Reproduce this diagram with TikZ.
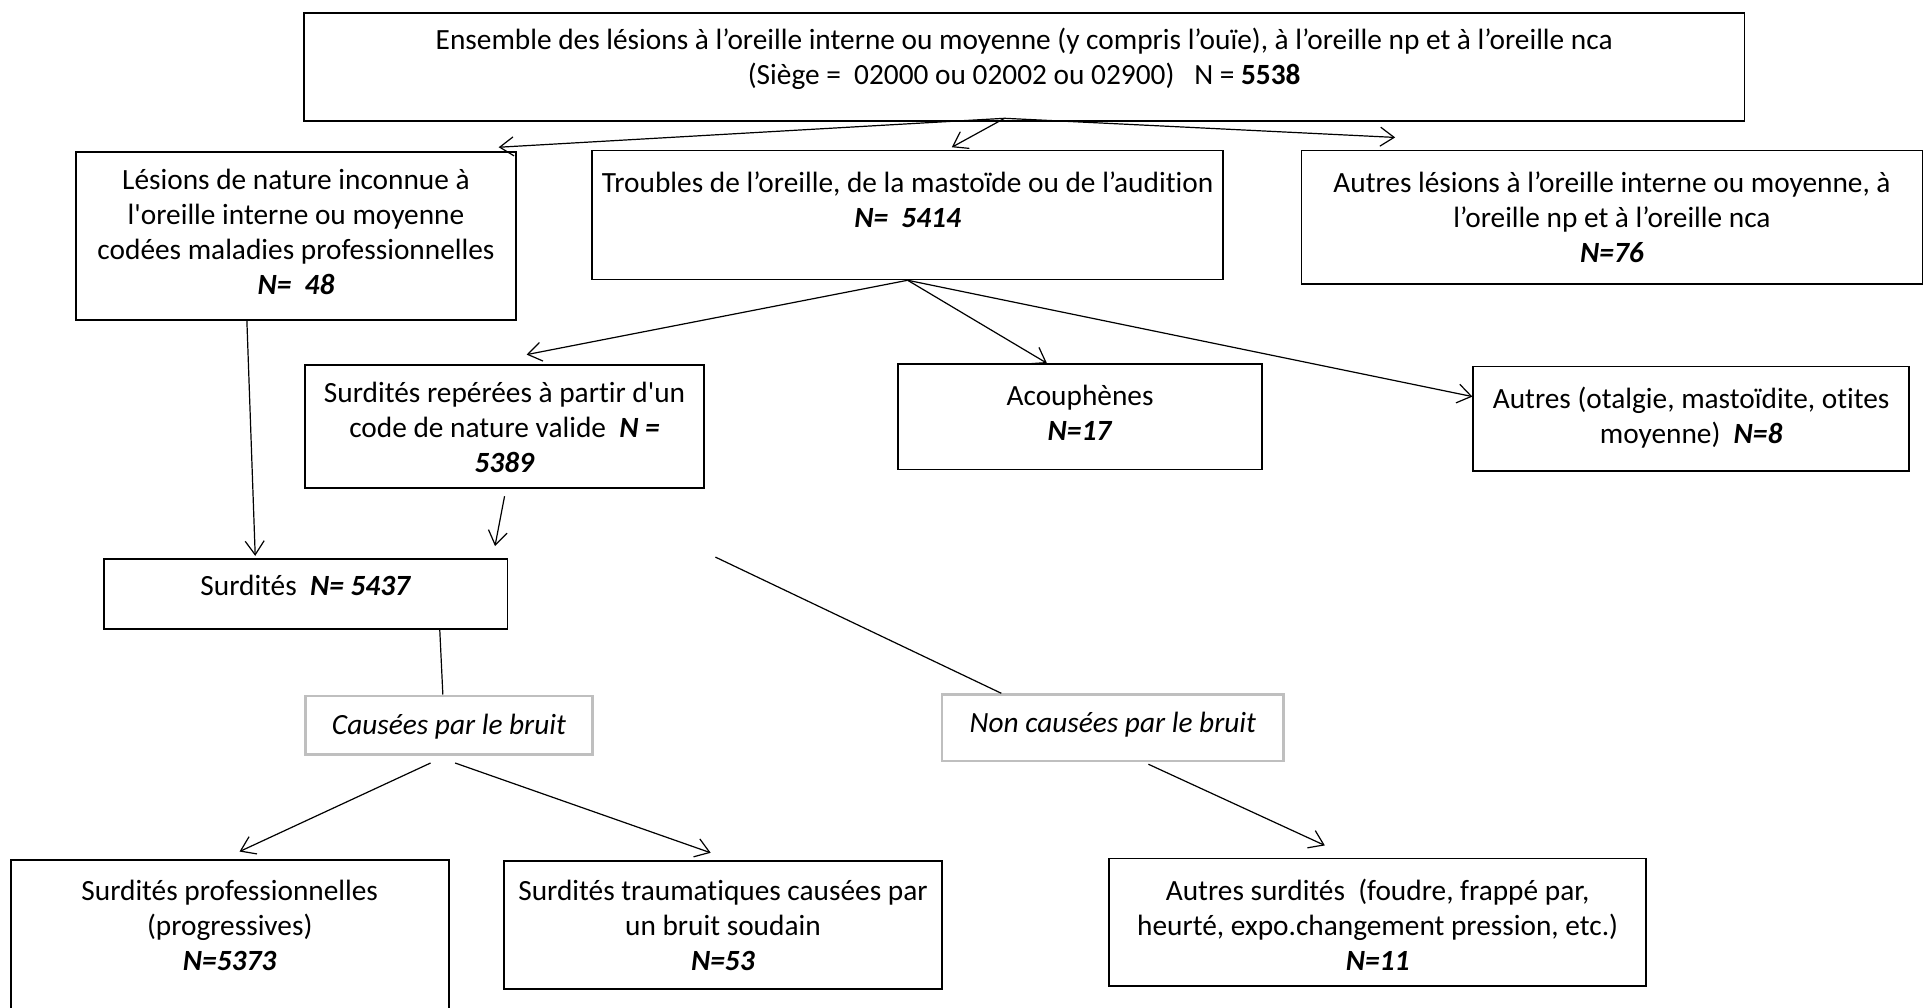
\documentclass[tikz,border=0pt]{standalone}
\usepackage{fontspec}
\setmainfont{Carlito}[Ligatures=NoCommon]
\usetikzlibrary{arrows.meta,calc,positioning}
\newdimen\pxu \pxu=0.025cm
\newcommand{\boxtext}[4]{\parbox[c][#2\pxu][t]{#1\pxu}{\centering\vspace*{#3\pxu}\strut#4}}
\newcommand{\nval}[1]{\textbf{\textit{#1}}}
\tikzset{box/.style={draw,line width=1pt,inner sep=0pt,anchor=north west,font=\fontsize{17pt}{20.3pt}\selectfont},
         gray box/.style={box,draw=black!25,line width=1.3pt},
         link/.style={line width=0.7pt},
         arrow/.style={link,-{Straight Barb[length=8pt,width=11pt]}},
}
\begin{document}
\begin{tikzpicture}[x=0.025cm,y=-0.025cm]
\useasboundingbox (0,0) rectangle (1568,821);
% boxes
\node[box] (top) at (247,10) {\boxtext{1174}{88}{10}{Ensemble des lésions à l’oreille interne ou moyenne (y compris l’ouïe), à l’oreille np et à l’oreille nca\\(Siège =\ \ 02000 ou 02002 ou 02900)\ \ \ N = \textbf{5538}}};
\node[box] (inconnue) at (61,123) {\boxtext{359}{137}{11}{Lésions de nature inconnue à\\l\textquotesingle oreille interne ou moyenne\\codées maladies professionnelles\\\nval{N=\ \ 48}}};
\node[box] (troubles) at (482,122) {\boxtext{514}{105}{14}{Troubles de l’oreille, de la mastoïde ou de l’audition\\\nval{N=\ \ 5414}}};
\node[box] (autreslesions) at (1060,122) {\boxtext{506}{109}{14}{Autres lésions à l’oreille interne ou moyenne, à\\l’oreille np et à l’oreille nca\\\nval{N=76}}};
\node[box] (reperees) at (248,297) {\boxtext{325}{100}{10}{Surdités repérées à partir d\textquotesingle un\\code de nature valide\ \ \nval{N =}\\\nval{5389}}};
\node[box] (acouph) at (731,296) {\boxtext{297}{86}{14}{Acouphènes\\\nval{N=17}}};
\node[box] (otalgie) at (1200,298) {\boxtext{355}{85}{14}{Autres (otalgie, mastoïdite, otites\\moyenne)\ \ \nval{N=8}}};
\node[box] (surdites) at (84,455) {\boxtext{329}{57}{10}{Surdités\ \ \nval{N= 5437}}};
\node[gray box] (bruit) at (248,566) {\boxtext{234}{48}{12}{\textit{Causées par le bruit}}};
\node[gray box] (nonbruit) at (767,565) {\boxtext{278}{54}{11}{\textit{Non causées par le bruit}}};
\node[box] (prof) at (8,700) {\boxtext{357}{130}{13}{Surdités professionnelles\\(progressives)\\\nval{N=5373}}};
\node[box] (trauma) at (410,701) {\boxtext{357}{104}{12}{Surdités traumatiques causées par\\un bruit soudain\\\nval{N=53}}};
\node[box] (autressurd) at (903,699) {\boxtext{438}{104}{14}{Autres surdités\ \ (foudre, frappé par,\\heurté, expo.changement pression, etc.)\\\nval{N=11}}};
% connector ends
\coordinate (apex) at ($(top.south)+(-16,-3)$);
\coordinate (split) at (583,454);
\draw[arrow] (apex) -- ($(inconnue.north east)+(-15,-3)$);
\draw[arrow] (apex) -- ($(troubles.north)+(36,-2)$);
\draw[arrow] (apex) -- ($(autreslesions.north west)+(77,-10)$);
\draw[arrow] (troubles.south) -- ($(reperees.north)+(18,-8)$);
\draw[arrow] (troubles.south) -- ($(acouph.north)+(-27,0)$);
\draw[arrow] (troubles.south) -- ($(otalgie.west)+(0,-18)$);
\draw[arrow] ($(inconnue.south)+(-40,0)$) -- ($(surdites.north west)+(124,-2)$);
\draw[arrow] ($(reperees.south)+(0,6)$) -- ($(surdites.north east)+(-11,-10)$);
\draw[link] ($(surdites.south east)+(-56,0)$) -- ($(bruit.north)+(-5,0)$);
\draw[link] (split) -- ($(nonbruit.north west)+(49,0)$);
\draw[arrow] ($(bruit.south)+(-15,6)$) -- ($(prof.north)+(8,-6)$);
\draw[arrow] ($(bruit.south)+(5,6)$) -- ($(trauma.north)+(-10,-6)$);
\draw[arrow] ($(nonbruit.south)+(29,2)$) -- ($(autressurd.north)+(-43,-10)$);
\end{tikzpicture}
\end{document}
